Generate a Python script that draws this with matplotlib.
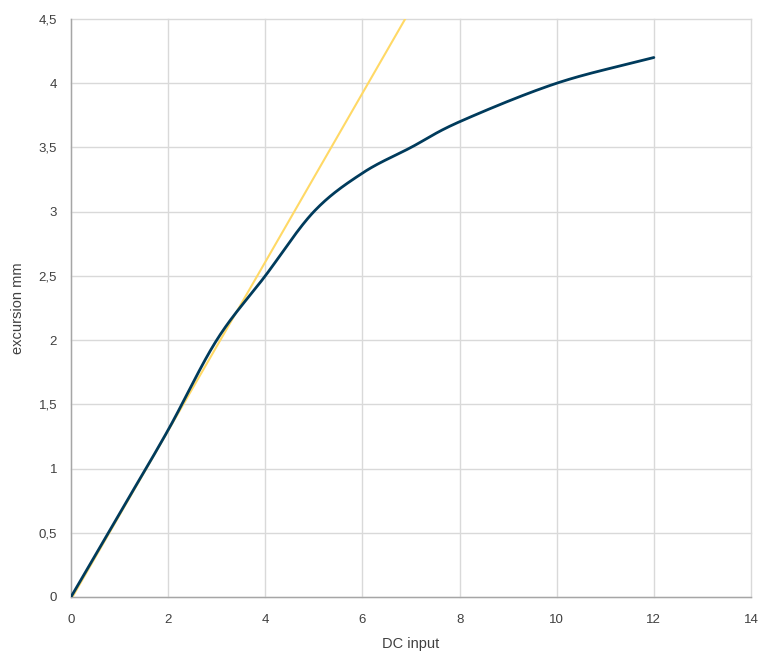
import numpy as np
import matplotlib.pyplot as plt
from matplotlib.ticker import FuncFormatter, MultipleLocator

# measured curve (DC input vs excursion)
dc_input = [0, 1, 2, 3, 4, 5, 6, 7, 8, 10, 12]
excursion = [0, 0.65, 1.3, 2.0, 2.5, 3.0, 3.3, 3.5, 3.7, 4.0, 4.2]

# linear trend line (clipped at the top of the axis)
trend_x = [0.03, 6.88]
trend_y = [0, 4.5]


def smooth(x, y, n=40, t=0.5):
    # Catmull-Rom style smoothing like a spreadsheet "smoothed line"
    x = np.asarray(x, float)
    y = np.asarray(y, float)
    px = np.concatenate([[2 * x[0] - x[1]], x, [2 * x[-1] - x[-2]]])
    py = np.concatenate([[2 * y[0] - y[1]], y, [2 * y[-1] - y[-2]]])
    xs, ys = [], []
    s = np.linspace(0, 1, n)
    for i in range(1, len(px) - 2):
        p0, p1, p2, p3 = (np.array([px[j], py[j]]) for j in range(i - 1, i + 3))
        c1 = p1 + (p2 - p0) * t / 3
        c2 = p2 - (p3 - p1) * t / 3
        b = ((1 - s) ** 3)[:, None] * p1 + (3 * (1 - s) ** 2 * s)[:, None] * c1 \
            + (3 * (1 - s) * s ** 2)[:, None] * c2 + (s ** 3)[:, None] * p2
        xs.extend(b[:, 0])
        ys.extend(b[:, 1])
    return xs, ys


plt.rcParams['font.family'] = ['Liberation Sans', 'DejaVu Sans']

fig = plt.figure(figsize=(7.69, 6.59), dpi=100)
ax = fig.add_axes([0.0923, 0.0941, 0.8843, 0.8771])

ax.plot(trend_x, trend_y, color='#FFD966', linewidth=1.5, zorder=2)
sx, sy = smooth(dc_input, excursion)
ax.plot(sx, sy, color='#003B5C', linewidth=2, zorder=3, solid_capstyle='round')

ax.set_xlim(0, 14)
ax.set_ylim(0, 4.5)
ax.xaxis.set_major_locator(MultipleLocator(2))
ax.yaxis.set_major_locator(MultipleLocator(0.5))
ax.yaxis.set_major_formatter(FuncFormatter(lambda v, p: f'{v:g}'.replace('.', ',')))

ax.grid(True, color='#D9D9D9', linewidth=1)
for gl in ax.get_xgridlines() + ax.get_ygridlines():
    gl.set_clip_on(False)
ax.set_axisbelow(True)
for s in ['top', 'right']:
    ax.spines[s].set_visible(False)
for s in ['left', 'bottom']:
    ax.spines[s].set_color('#A6A6A6')
    ax.spines[s].set_linewidth(1)

ax.tick_params(length=0, labelsize=9.5, colors='#404040', pad=10)
ax.tick_params(axis='x', pad=12)
ax.set_xlabel('DC input', fontsize=10.5, color='#404040', labelpad=8)
ax.set_ylabel('excursion mm', fontsize=10.5, color='#404040', labelpad=10)

fig.savefig('out.png', dpi=100, facecolor='white')
